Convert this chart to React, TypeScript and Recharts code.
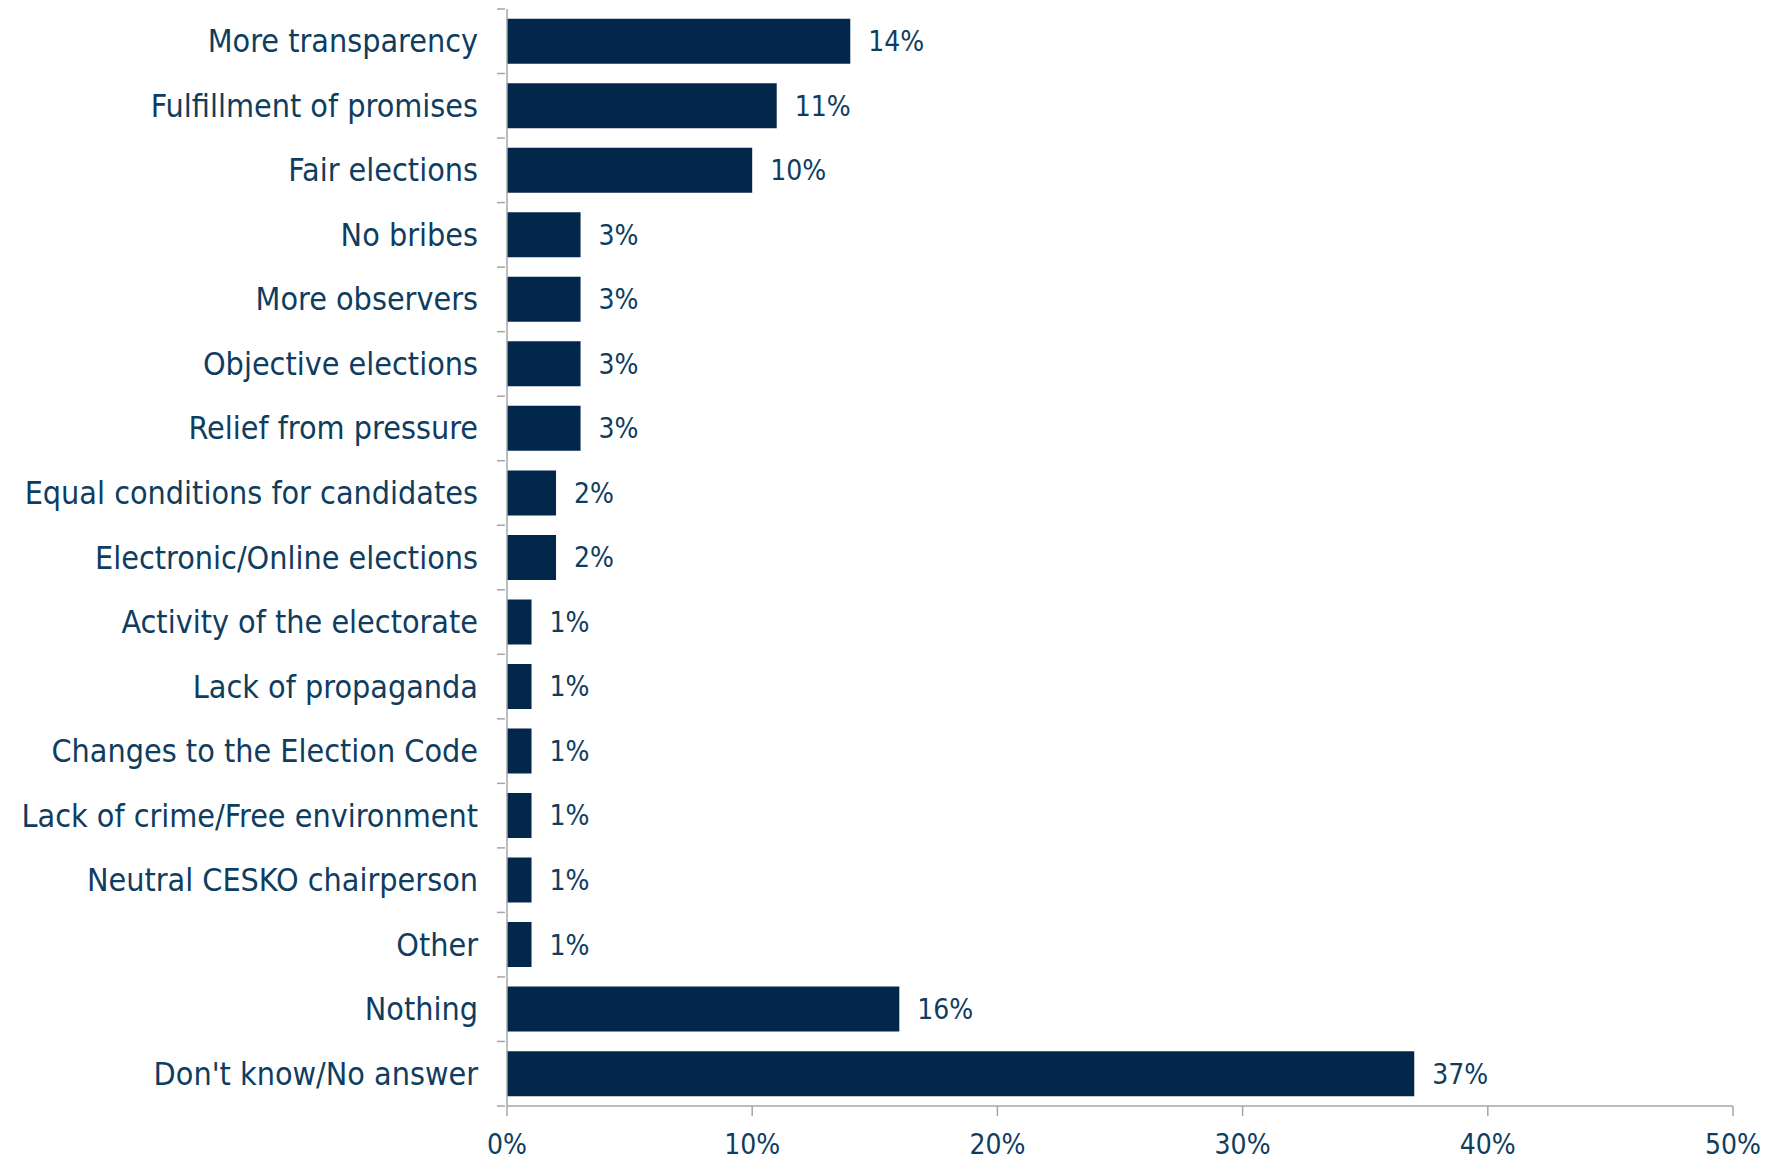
import { Bar, BarChart, LabelList, XAxis, YAxis } from "recharts";

const categories = [
  "More transparency",
  "Fulfillment of promises",
  "Fair elections",
  "No bribes",
  "More observers",
  "Objective elections",
  "Relief from pressure",
  "Equal conditions for candidates",
  "Electronic/Online elections",
  "Activity of the electorate",
  "Lack of propaganda",
  "Changes to the Election Code",
  "Lack of crime/Free environment",
  "Neutral CESKO chairperson",
  "Other",
  "Nothing",
  "Don't know/No answer",
];
const shares = [14, 11, 10, 3, 3, 3, 3, 2, 2, 1, 1, 1, 1, 1, 1, 16, 37];
const xTicks = [0, 10, 20, 30, 40, 50];

const data = categories.map((name, i) => ({ name, value: shares[i] }));

const W = 1763;
const H = 1153;
const PLOT_TOP = 1;
const PLOT_BOTTOM = 1098;
const band = (PLOT_BOTTOM - PLOT_TOP) / categories.length;

const FONT = "'DejaVu Sans Condensed', 'DejaVu Sans', sans-serif";
const TEXT = "#0f3d5f";
const BAR = "#02274a";
const AXIS = "#a6a6a6";

function CategoryTick(props: any) {
  const { x, y, payload, index } = props;
  const ax = x + 6;
  const last = index === categories.length - 1;
  return (
    <g>
      <line x1={ax - 8} x2={ax} y1={y - band / 2} y2={y - band / 2} stroke={AXIS} strokeWidth={1.5} />
      {last && <line x1={ax - 8} x2={ax} y1={y + band / 2} y2={y + band / 2} stroke={AXIS} strokeWidth={1.5} />}
      <text x={ax - 27} y={y} dy={11} textAnchor="end" fill={TEXT} fontSize={32} fontFamily={FONT}>
        {payload.value}
      </text>
    </g>
  );
}

export default function App() {
  return (
    <BarChart
      width={W}
      height={H}
      data={data}
      layout="vertical"
      barCategoryGap="15%"
      margin={{ top: PLOT_TOP, right: 38, left: 0, bottom: 0 }}
    >
      <XAxis
        type="number"
        domain={[0, 50]}
        ticks={xTicks}
        tickFormatter={(v: number) => `${v}%`}
        height={H - PLOT_BOTTOM}
        stroke={AXIS}
        strokeWidth={1.5}
        tickSize={10}
        tick={{ fill: TEXT, fontSize: 28, fontFamily: FONT }}
        tickMargin={18}
      />
      <YAxis
        type="category"
        dataKey="name"
        width={499}
        stroke={AXIS}
        strokeWidth={1.5}
        tickLine={false}
        interval={0}
        tick={<CategoryTick />}
      />
      <Bar dataKey="value" fill={BAR} isAnimationActive={false}>
        <LabelList
          dataKey="value"
          position="right"
          offset={18}
          formatter={(v: any) => `${v}%`}
          fill={TEXT}
          fontSize={28}
          fontFamily={FONT}
        />
      </Bar>
    </BarChart>
  );
}
